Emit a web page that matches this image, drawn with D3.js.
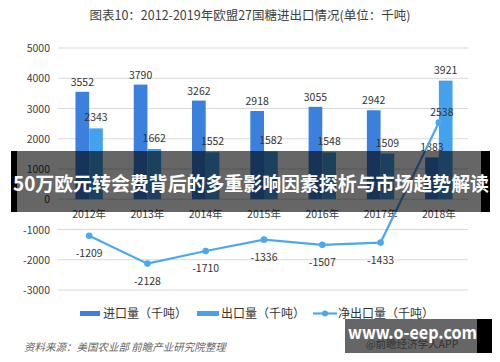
<!DOCTYPE html>
<html>
<head>
<meta charset="utf-8">
<script src="https://cdn.jsdelivr.net/npm/d3@7"></script>
<style>
  body { margin: 0; background: #fff; }
  svg { display: block; font-family: "Noto Sans CJK SC", "Noto Sans", sans-serif; }
</style>
</head>
<body>
<div id="chart"></div>
<script>
// data (千吨)
const years = ["2012年", "2013年", "2014年", "2015年", "2016年", "2017年", "2018年"];
const imports = [3552, 3790, 3262, 2918, 3055, 2942, 1383];
const exports = [2343, 1662, 1552, 1582, 1548, 1509, 3921];
const netExports = [-1209, -2128, -1710, -1336, -1507, -1433, 2538];
const yTicks = [-3000, -2000, -1000, 0, 1000, 2000, 3000, 4000, 5000];
const legendNames = ["进口量（千吨）", "出口量（千吨）", "净出口量（千吨）"];

const title = "图表10：2012-2019年欧盟27国糖进出口情况(单位：千吨)";
const source = "资料来源：美国农业部 前瞻产业研究院整理";
const banner = "50万欧元转会费背后的多重影响因素探析与市场趋势解读";

const width = 500, height = 362;
const colImp = "#3b80dd", colExp = "#44a2ec", colNet = "#4aa8ef";

const svg = d3.select("#chart").append("svg")
    .attr("width", width)
    .attr("height", height);

svg.append("text")
    .attr("x", 250).attr("y", 20)
    .attr("text-anchor", "middle")
    .attr("font-size", 12.5)
    .attr("fill", "#404040")
    .text(title);

const x = d3.scaleBand()
    .domain(years)
    .range([60, 468])
    .paddingInner(0.53)
    .paddingOuter(0.265);

const xs = d3.scaleBand()
    .domain(["imp", "exp"])
    .range([0, x.bandwidth()]);

const y = d3.scaleLinear()
    .domain([-3000, 5000])
    .range([290, 48]);

// grid
svg.append("g")
    .selectAll("line")
    .data(yTicks)
    .enter().append("line")
    .attr("x1", 58).attr("x2", 468)
    .attr("y1", d => y(d)).attr("y2", d => y(d))
    .attr("stroke", "#d9d9d9")
    .attr("stroke-width", 1);

svg.append("g")
    .selectAll("text")
    .data(yTicks)
    .enter().append("text")
    .attr("x", 50)
    .attr("y", d => y(d) + 4)
    .attr("text-anchor", "end")
    .attr("font-size", 10.5)
    .attr("fill", "#404040")
    .text(d => d);

// bars
const groups = svg.append("g")
    .selectAll("g")
    .data(years)
    .enter().append("g")
    .attr("transform", d => `translate(${x(d)},0)`);

groups.append("rect")
    .attr("x", xs("imp"))
    .attr("width", xs.bandwidth())
    .attr("y", (d, i) => y(imports[i]))
    .attr("height", (d, i) => y(0) - y(imports[i]))
    .attr("fill", colImp);

groups.append("rect")
    .attr("x", xs("exp"))
    .attr("width", xs.bandwidth())
    .attr("y", (d, i) => y(exports[i]))
    .attr("height", (d, i) => y(0) - y(exports[i]))
    .attr("fill", colExp);

groups.append("text")
    .attr("x", xs("imp") + xs.bandwidth() / 2)
    .attr("y", (d, i) => y(imports[i]) - 6)
    .attr("text-anchor", "middle")
    .attr("font-size", 10.5)
    .attr("fill", "#333")
    .text((d, i) => imports[i]);

groups.append("text")
    .attr("x", xs("exp") + xs.bandwidth() / 2)
    .attr("y", (d, i) => y(exports[i]) - 7)
    .attr("text-anchor", "middle")
    .attr("font-size", 10.5)
    .attr("fill", "#333")
    .text((d, i) => exports[i]);

// x labels
svg.append("g")
    .selectAll("text")
    .data(years)
    .enter().append("text")
    .attr("x", d => x(d) + x.bandwidth() / 2)
    .attr("y", 218)
    .attr("text-anchor", "middle")
    .attr("font-size", 10.5)
    .attr("fill", "#404040")
    .text(d => d);

// net export line
const cx = d => x(d) + x.bandwidth() / 2;
const line = d3.line()
    .x((d, i) => cx(years[i]))
    .y(d => y(d));

svg.append("path")
    .datum(netExports)
    .attr("d", line)
    .attr("fill", "none")
    .attr("stroke", colNet)
    .attr("stroke-width", 2.2);

svg.append("g")
    .selectAll("circle")
    .data(netExports)
    .enter().append("circle")
    .attr("cx", (d, i) => cx(years[i]))
    .attr("cy", d => y(d))
    .attr("r", 3.3)
    .attr("fill", colNet);

svg.append("g")
    .selectAll("text")
    .data(netExports)
    .enter().append("text")
    .attr("x", (d, i) => cx(years[i]) + (d > 0 ? 3 : 0))
    .attr("y", d => d < 0 ? y(d) + 21 : y(d) - 6)
    .attr("text-anchor", "middle")
    .attr("font-size", 10.5)
    .attr("fill", "#333")
    .text(d => d);

// legend
const lg = svg.append("g").attr("font-size", 12).attr("fill", "#333");
const legX = [80, 197, 313];
lg.append("rect").attr("x", legX[0]).attr("y", 311).attr("width", 20).attr("height", 5).attr("fill", colImp);
lg.append("rect").attr("x", legX[1]).attr("y", 311).attr("width", 22).attr("height", 5).attr("fill", colExp);
lg.append("line").attr("x1", legX[2]).attr("x2", legX[2] + 24).attr("y1", 313.5).attr("y2", 313.5)
    .attr("stroke", colNet).attr("stroke-width", 2.2);
lg.append("circle").attr("cx", legX[2] + 12).attr("cy", 313.5).attr("r", 3).attr("fill", colNet);
lg.selectAll("text")
    .data(legendNames)
    .enter().append("text")
    .attr("x", (d, i) => [103, 221, 338][i])
    .attr("y", 318)
    .text(d => d);

svg.append("text")
    .attr("x", 24).attr("y", 351)
    .attr("font-size", 10.5)
    .attr("font-style", "italic")
    .attr("fill", "#666")
    .text(source);

// overlay banner: black edges, translucent middle
svg.append("rect").attr("x", 11).attr("y", 151).attr("width", 6).attr("height", 61).attr("fill", "#000");
svg.append("rect").attr("x", 481).attr("y", 151).attr("width", 9).attr("height", 61).attr("fill", "#000");
svg.append("rect").attr("x", 17).attr("y", 151).attr("width", 464).attr("height", 61).attr("fill", "rgba(0,0,0,0.6)");
svg.append("text")
    .attr("x", 13).attr("y", 191)
    .attr("font-size", 19.5)
    .attr("font-weight", "bold")
    .attr("fill", "#fff")
    .attr("textLength", 476)
    .attr("lengthAdjust", "spacingAndGlyphs")
    .text(banner);

// site stamp
svg.append("rect").attr("x", 345).attr("y", 319).attr("width", 147).attr("height", 34).attr("fill", "#000");
svg.append("rect").attr("x", 345).attr("y", 319).attr("width", 132).attr("height", 34).attr("fill", "#666");
svg.append("text")
    .attr("x", 412).attr("y", 348)
    .attr("text-anchor", "middle")
    .attr("font-size", 10.5)
    .attr("fill", "#333")
    .text("@前瞻经济学人APP");
svg.append("text")
    .attr("x", 348).attr("y", 339)
    .attr("font-size", 18)
    .attr("font-weight", "bold")
    .attr("fill", "#fff")
    .attr("textLength", 129)
    .attr("lengthAdjust", "spacingAndGlyphs")
    .text("www.o-eep.com");
</script>
</body>
</html>
